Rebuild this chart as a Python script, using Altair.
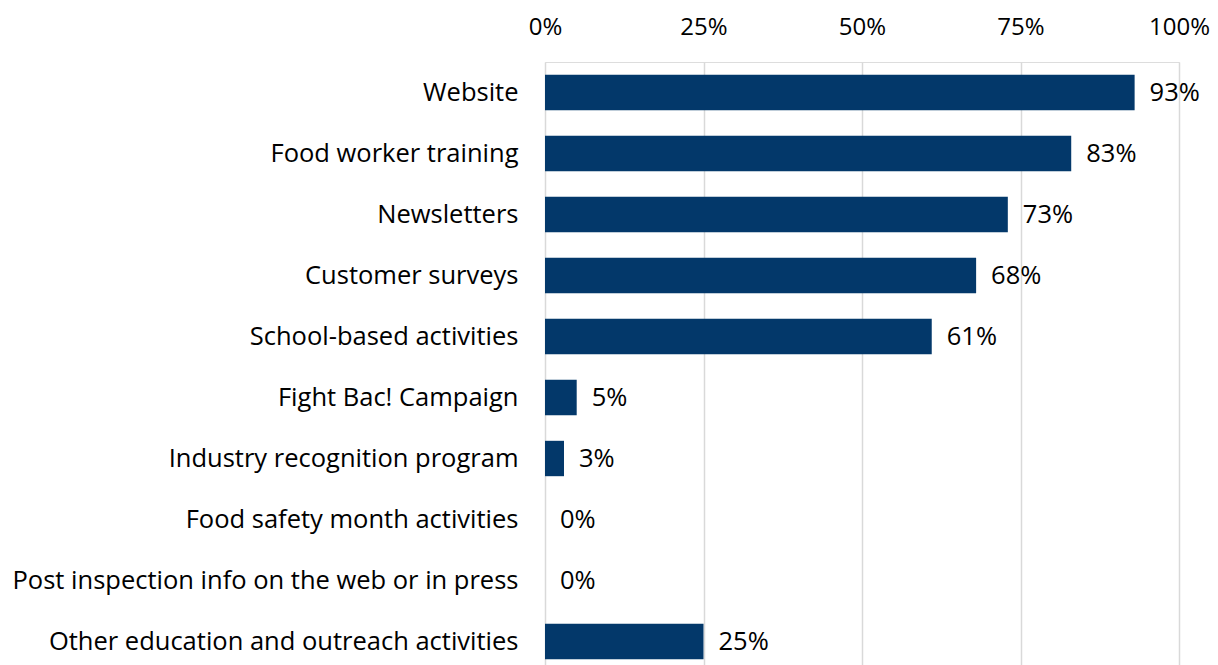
import altair as alt
import pandas as pd

categories = [
    "Website",
    "Food worker training",
    "Newsletters",
    "Customer surveys",
    "School-based activities",
    "Fight Bac! Campaign",
    "Industry recognition program",
    "Food safety month activities",
    "Post inspection info on the web or in press",
    "Other education and outreach activities",
]
values = [0.93, 0.83, 0.73, 0.68, 0.61, 0.05, 0.03, 0.0, 0.0, 0.25]
tick_values = [0, 0.25, 0.5, 0.75, 1.0]

df = pd.DataFrame({"category": categories, "value": values})
FONT = "Open Sans"
FS = 25.5

base = alt.Chart(df).encode(
    y=alt.Y("category:N", sort=categories, title=None,
            scale=alt.Scale(paddingInner=0.42, paddingOuter=0.21),
            axis=alt.Axis(labelFont=FONT, labelFontSize=FS, labelColor="#000000",
                          labelPadding=27, ticks=False, domain=False, labelLimit=800)),
    x=alt.X("value:Q", title=None,
            scale=alt.Scale(domain=[0, 1], nice=False),
            axis=alt.Axis(orient="top", values=tick_values, format=".0%",
                          labelFont=FONT, labelFontSize=24, labelColor="#000000",
                          labelPadding=23, ticks=False, domain=False, labelFlush=False,
                          labelOverlap=False,
                          grid=True, gridColor="#d9d9d9", gridWidth=1.5)),
)

bars = base.mark_bar(color="#03386a")
labels = base.mark_text(align="left", baseline="middle", dx=15, font=FONT,
                        fontSize=FS, color="#000000").encode(
    text=alt.Text("value:Q", format=".0%"))

chart = (bars + labels).properties(
    width=634, height=610,
    autosize=alt.AutoSizeParams(type="none"),
    padding={"left": 537, "top": 54, "right": 31, "bottom": 0},
).configure_view(stroke=None).configure(background="white")

chart.save("out.html", embed_options={"renderer": "svg", "actions": False})
